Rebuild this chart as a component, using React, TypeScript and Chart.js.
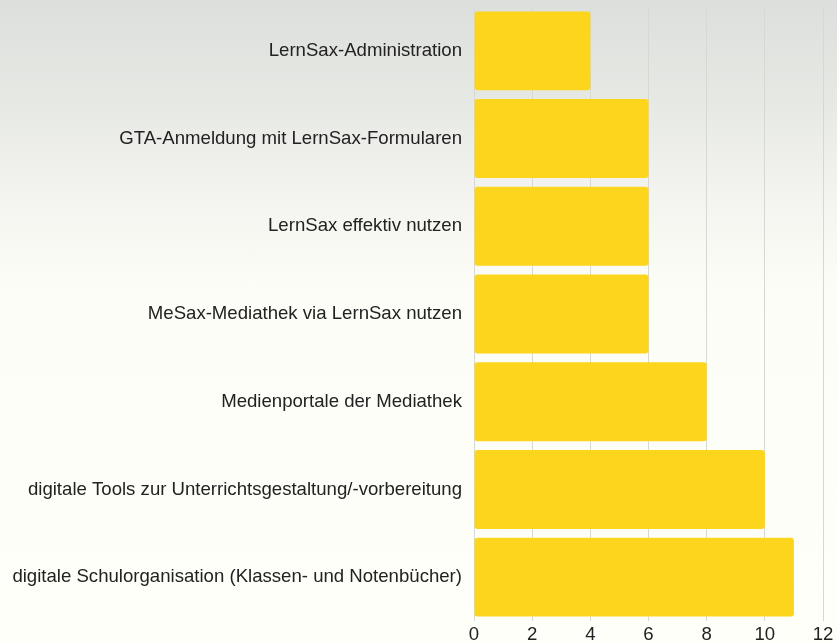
import React, { useEffect, useRef } from "react";
import { Chart, registerables } from "chart.js";

Chart.register(...registerables);

const categories: string[] = [
  "LernSax-Administration",
  "GTA-Anmeldung mit LernSax-Formularen",
  "LernSax effektiv nutzen",
  "MeSax-Mediathek via LernSax nutzen",
  "Medienportale der Mediathek",
  "digitale Tools zur Unterrichtsgestaltung/-vorbereitung",
  "digitale Schulorganisation (Klassen- und Notenbücher)",
];
const values: number[] = [4, 6, 6, 6, 8, 10, 11];
const xMin = 0;
const xMax = 12;
const xStep = 2;

const W = 837;
const H = 643;
const FONT = { family: "'Liberation Sans', Arial, sans-serif", size: 18.6 };

export default function App() {
  const ref = useRef<HTMLCanvasElement | null>(null);
  useEffect(() => {
    if (!ref.current) return;
    const chart = new Chart(ref.current, {
      type: "bar",
      data: {
        labels: categories,
        datasets: [
          {
            data: values,
            backgroundColor: "#fdd51c",
            borderRadius: 3,
            borderSkipped: false,
            barPercentage: 0.9,
            categoryPercentage: 1.0,
          },
        ],
      },
      options: {
        indexAxis: "y",
        responsive: false,
        animation: false,
        layout: { padding: { top: 7, right: 14, bottom: 0, left: 0 } },
        plugins: { legend: { display: false }, tooltip: { enabled: false } },
        scales: {
          x: {
            min: xMin,
            max: xMax,
            ticks: {
              stepSize: xStep,
              padding: 3,
              color: "#222",
              font: FONT,
            },
            grid: { color: "#d6d8d4", lineWidth: 1, drawTicks: false },
            border: { display: false },
            afterFit: (s: any) => {
              s.height = 22;
              s.paddingLeft = 0;
              s.paddingRight = 0;
            },
          },
          y: {
            ticks: {
              padding: 12,
              color: "#222",
              font: FONT,
            },
            grid: { display: false, drawTicks: false },
            border: { display: false },
            afterFit: (s: any) => {
              s.width = 474;
              s.paddingTop = 0;
              s.paddingBottom = 0;
            },
          },
        },
      },
    });
    return () => chart.destroy();
  }, []);
  return (
    <div
      style={{
        position: "absolute",
        left: 0,
        top: 0,
        width: W,
        height: H,
        background:
          "linear-gradient(to bottom, #dcdfdb 0%, #e6e8e4 15%, #f3f4ef 30%, #fdfdf7 45%, #fffff9 100%)",
      }}
    >
      <canvas ref={ref} width={W} height={H} style={{ display: "block" }} />
    </div>
  );
}
